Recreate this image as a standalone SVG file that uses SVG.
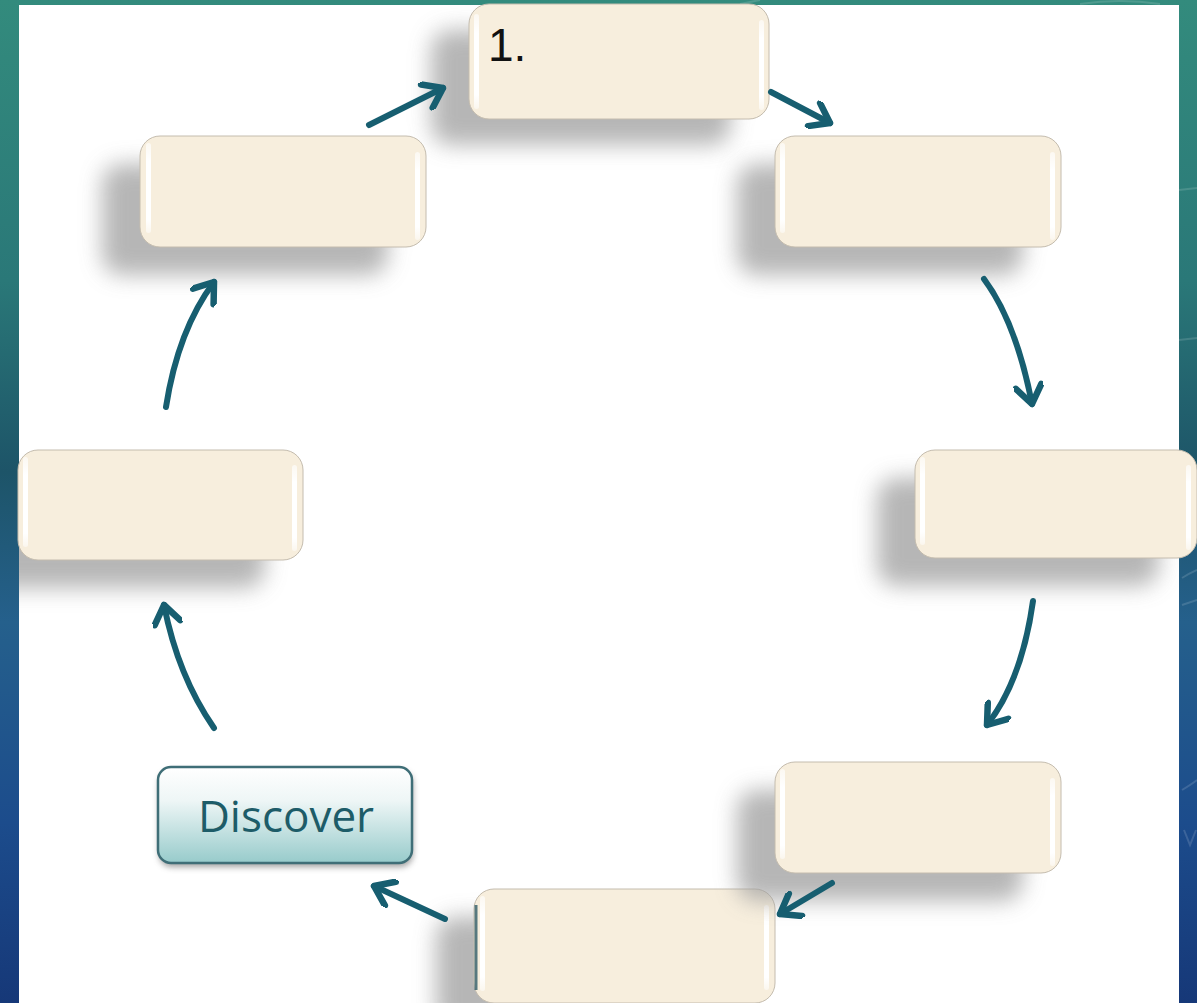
<svg xmlns="http://www.w3.org/2000/svg" width="1197" height="1003" viewBox="0 0 1197 1003">
  <defs>
    <linearGradient id="bg" x1="0" y1="0" x2="0" y2="1">
      <stop offset="0" stop-color="#338b7d"/>
      <stop offset="0.28" stop-color="#2a7878"/>
      <stop offset="0.47" stop-color="#1d5468"/>
      <stop offset="0.62" stop-color="#25608c"/>
      <stop offset="0.82" stop-color="#1c4c8c"/>
      <stop offset="1" stop-color="#163878"/>
    </linearGradient>
    <linearGradient id="disc" x1="0" y1="0" x2="0" y2="1">
      <stop offset="0" stop-color="#ffffff"/>
      <stop offset="0.35" stop-color="#eef6f6"/>
      <stop offset="1" stop-color="#97cbcb"/>
    </linearGradient>
    <linearGradient id="shine" x1="0" y1="0" x2="0" y2="1">
      <stop offset="0" stop-color="#ffffff" stop-opacity="0.6"/>
      <stop offset="0.2" stop-color="#ffffff" stop-opacity="1"/>
      <stop offset="0.85" stop-color="#ffffff" stop-opacity="1"/>
      <stop offset="1" stop-color="#ffffff" stop-opacity="0.5"/>
    </linearGradient>
    <filter id="soft" x="-30%" y="-50%" width="160%" height="200%">
      <feGaussianBlur stdDeviation="11"/>
    </filter>
    <filter id="softSmall" x="-20%" y="-30%" width="140%" height="160%">
      <feGaussianBlur stdDeviation="3"/>
    </filter>
    <clipPath id="panel">
      <rect x="19" y="5" width="1160" height="998"/>
    </clipPath>
    <marker id="head" viewBox="-22 -15 26 30" refX="0" refY="0" markerWidth="26" markerHeight="30" markerUnits="userSpaceOnUse" orient="auto">
      <path d="M-18,-13 L0,0 L-18,13" fill="none" stroke="#175e70" stroke-width="6.5" stroke-linecap="round" stroke-linejoin="round"/>
    </marker>
    <style>
      .shadow { fill: #a2a2a2; opacity: 0.78; filter: url(#soft); }
      .box { fill: #f7eedd; stroke: #c4bcae; stroke-width: 1; }
      .hl { fill: url(#shine); }
      .arrow { fill: none; stroke: #175e70; stroke-width: 6; stroke-linecap: round; marker-end: url(#head); }
      .deco { fill: none; stroke: #ffffff; stroke-opacity: 0.14; stroke-width: 2; }
    </style>
  </defs>

  <!-- backdrop -->
  <rect x="0" y="0" width="1197" height="1003" fill="url(#bg)"/>
  <g id="backdrop-lines">
    <path class="deco" d="M1179,190 L1197,188"/>
    <path class="deco" d="M1179,340 L1197,338"/>
    <path class="deco" d="M1197,570 A120,120 0 0 0 1182,578"/>
    <path class="deco" d="M1182,605 Q1197,600 1197,600"/>
    <path class="deco" d="M1182,790 Q1192,784 1197,780"/>
    <path class="deco" d="M1184,830 L1190,845 L1196,830"/>
    <path class="deco" d="M1080,4 Q1120,-2 1160,4"/>
    <path class="deco" d="M740,4 L760,0"/>
  </g>
  <rect x="19" y="5" width="1160" height="998" fill="#ffffff"/>

  <!-- nodes -->
  <g id="node-top">
    <rect class="shadow" x="431" y="30" width="300" height="115" rx="20"/>
    <rect class="box" x="469" y="4" width="300" height="115" rx="20"/>
    <rect class="hl" x="474" y="14" width="5" height="95" rx="2.5"/>
    <rect class="hl" x="759" y="20" width="5" height="90" rx="2.5"/>
    <text x="488" y="61" font-family="'Liberation Sans', Arial, sans-serif" font-size="46" fill="#111111">1.</text>
  </g>

  <g id="node-upper-left">
    <rect class="shadow" x="102" y="164" width="286" height="111" rx="20"/>
    <rect class="box" x="140" y="136" width="286" height="111" rx="20"/>
    <rect class="hl" x="146" y="143" width="5" height="90" rx="2.5"/>
    <rect class="hl" x="415" y="152" width="5" height="88" rx="2.5"/>
  </g>

  <g id="node-upper-right">
    <rect class="shadow" x="737" y="164" width="286" height="111" rx="20"/>
    <rect class="box" x="775" y="136" width="286" height="111" rx="20"/>
    <rect class="hl" x="780" y="143" width="5" height="90" rx="2.5"/>
    <rect class="hl" x="1050" y="152" width="5" height="88" rx="2.5"/>
  </g>

  <g id="node-right">
    <rect class="shadow" x="877" y="478" width="282" height="108" rx="20"/>
    <rect class="box" x="915" y="450" width="282" height="108" rx="20"/>
    <rect class="hl" x="920" y="457" width="5" height="88" rx="2.5"/>
    <rect class="hl" x="1186" y="465" width="5" height="85" rx="2.5"/>
  </g>

  <g id="node-left">
    <g clip-path="url(#panel)">
      <rect class="shadow" x="-20" y="478" width="285" height="110" rx="20"/>
    </g>
    <rect class="box" x="18" y="450" width="285" height="110" rx="20"/>
    <rect class="hl" x="23" y="457" width="5" height="90" rx="2.5"/>
    <rect class="hl" x="292" y="465" width="5" height="86" rx="2.5"/>
  </g>

  <g id="node-bottom">
    <rect class="shadow" x="436" y="917" width="301" height="114" rx="20"/>
    <rect class="box" x="474" y="889" width="301" height="114" rx="20"/>
    <path d="M476,905 L476,990" stroke="#2e5a66" stroke-width="3" fill="none" opacity="0.8"/>
    <rect class="hl" x="480" y="896" width="5" height="95" rx="2.5"/>
    <rect class="hl" x="764" y="905" width="5" height="85" rx="2.5"/>
  </g>

  <g id="node-lower-right">
    <rect class="shadow" x="737" y="790" width="286" height="111" rx="20"/>
    <rect class="box" x="775" y="762" width="286" height="111" rx="20"/>
    <rect class="hl" x="780" y="769" width="5" height="90" rx="2.5"/>
    <rect class="hl" x="1050" y="778" width="5" height="88" rx="2.5"/>
  </g>

  <g id="node-discover">
    <rect x="159" y="771" width="254" height="96" rx="13" fill="#555555" opacity="0.55" filter="url(#softSmall)"/>
    <rect x="158" y="767" width="254" height="96" rx="13" fill="url(#disc)" stroke="#3f6e77" stroke-width="2.5"/>
    <text x="286" y="832" text-anchor="middle" font-family="'Open Sans', 'Liberation Sans', sans-serif" font-size="44" fill="#1d5c68">Discover</text>
  </g>

  <!-- connectors -->
  <g id="connectors">
    <path class="arrow" d="M369,125 L443,88"/>
    <path class="arrow" d="M771,92 L830,123"/>
    <path class="arrow" d="M984,279 Q1016,322 1032,404"/>
    <path class="arrow" d="M1033,601 Q1022,680 987,725"/>
    <path class="arrow" d="M832,883 L780,914"/>
    <path class="arrow" d="M445,919 L374,886"/>
    <path class="arrow" d="M214,728 Q178,676 164,605"/>
    <path class="arrow" d="M166,407 Q178,330 214,282"/>
  </g>
</svg>
